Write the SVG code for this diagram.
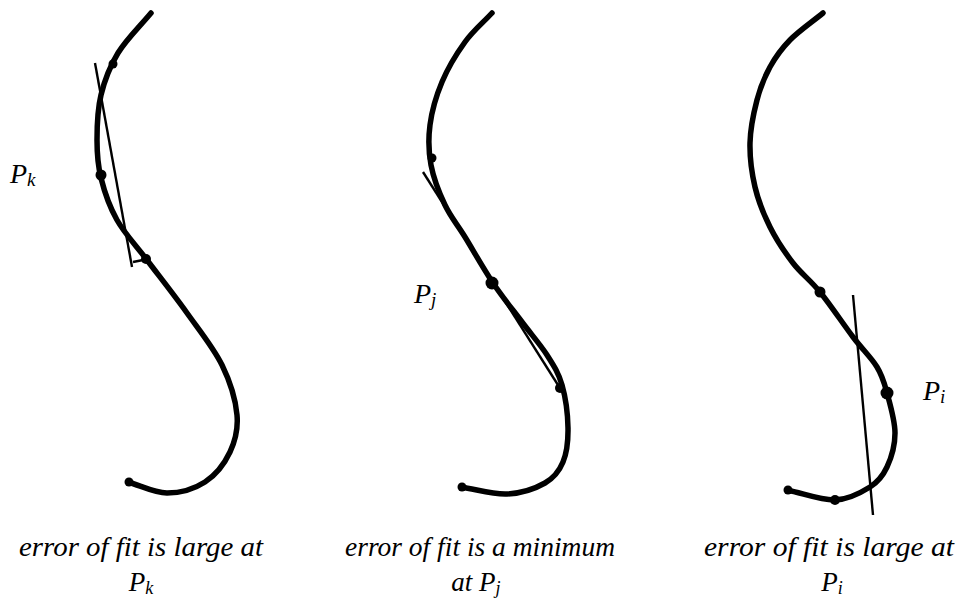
<svg xmlns="http://www.w3.org/2000/svg" width="965" height="615" viewBox="0 0 965 615">
<style>
.curve{fill:none;stroke:#000;stroke-width:5.5;stroke-linecap:round;stroke-linejoin:round}
.tan{fill:none;stroke:#000;stroke-width:2.4;stroke-linecap:butt}
.dot{fill:#000}
.lbl{font-family:"Liberation Serif","Times New Roman",serif;font-style:italic;fill:#000}
.cap{font-family:"Liberation Serif","Times New Roman",serif;font-style:italic;font-size:27px;fill:#000;text-anchor:middle}
</style>
<rect width="965" height="615" fill="#fff"/>
<g id="fig-k">
<path class="curve" d="M151,13 C140,26.3 126.3,39.3 118,53 C109.7,66.7 104.5,80.5 101,95 C97.5,109.5 97,126.2 97,140 C97,153.8 97.7,164.7 101,178 C104.3,191.3 109.3,206.3 117,220 C124.7,233.7 135.3,244.5 147,260 C158.7,275.5 174.5,295.5 187,313 C199.5,330.5 213.7,348 222,365 C230.3,382 235.7,400.5 237,415 C238.3,429.5 235.3,440.8 230,452 C224.7,463.2 215.5,475.2 205,482 C194.5,488.8 179.8,493 167,493 C154.2,493 141,485.7 128,482"/>
<line class="tan" x1="95" y1="63" x2="132" y2="267"/>
<line class="tan" x1="133" y1="262" x2="148" y2="259"/>
<circle class="dot" cx="113" cy="64" r="4.5"/>
<circle class="dot" cx="101" cy="175" r="5.5"/>
<circle class="dot" cx="146" cy="259" r="5"/>
<circle class="dot" cx="129" cy="482" r="4.5"/>
<text class="lbl" x="10" y="183" font-size="28">P<tspan font-size="19" dy="3">k</tspan></text>
</g>
<g id="fig-j">
<path class="curve" d="M492,13 C483,22.7 473.3,30.5 465,42 C456.7,53.5 447.8,68.2 442,82 C436.2,95.8 431.8,111.2 430,125 C428.2,138.8 428.5,151.7 431,165 C433.5,178.3 439.3,193 445,205 C450.7,217 457,224 465,237 C473,250 483.5,268.8 493,283 C502.5,297.2 513,310 522,322 C531,334 540.3,344.5 547,355 C553.7,365.5 558.5,372.8 562,385 C565.5,397.2 567.8,415.2 568,428 C568.2,440.8 566.8,452.8 563,462 C559.2,471.2 554.3,477.7 545,483 C535.7,488.3 521,493.3 507,494 C493,494.7 476.3,489.3 461,487"/>
<line class="tan" x1="423" y1="172" x2="558" y2="385"/>
<circle class="dot" cx="432" cy="158" r="4.5"/>
<circle class="dot" cx="492" cy="283" r="6.5"/>
<circle class="dot" cx="560" cy="388" r="5"/>
<circle class="dot" cx="462" cy="487" r="4.5"/>
<text class="lbl" x="414" y="303" font-size="28">P<tspan font-size="19" dy="3">j</tspan></text>
</g>
<g id="fig-i">
<path class="curve" d="M823,13 C812,22 798.8,31 790,40 C781.2,49 775.5,57 770,67 C764.5,77 760.3,87.3 757,100 C753.7,112.7 750.3,128.5 750,143 C749.7,157.5 751.7,173 755,187 C758.3,201 763.7,214.3 770,227 C776.3,239.7 784.7,252.2 793,263 C801.3,273.8 810,279.7 820,292 C830,304.3 843.5,324.5 853,337 C862.5,349.5 871.3,357.7 877,367 C882.7,376.3 884,382 887,393 C890,404 895,420.7 895,433 C895,445.3 891.2,458 887,467 C882.8,476 878.7,481.5 870,487 C861.3,492.5 848.8,499.5 835,500 C821.2,500.5 803,493.3 787,490"/>
<line class="tan" x1="853" y1="295" x2="873" y2="515"/>
<circle class="dot" cx="820" cy="292" r="5.5"/>
<circle class="dot" cx="887" cy="393" r="6.5"/>
<circle class="dot" cx="835" cy="500" r="5"/>
<circle class="dot" cx="788" cy="490" r="4.5"/>
<text class="lbl" x="923" y="400" font-size="28">P<tspan font-size="19" dy="3">i</tspan></text>
</g>
<g id="captions">
<text class="cap" x="141" y="556" textLength="244" lengthAdjust="spacingAndGlyphs">error of fit is large at</text>
<text class="cap" x="141" y="591">P<tspan font-size="18" dy="3">k</tspan></text>
<text class="cap" x="480" y="556" textLength="270" lengthAdjust="spacingAndGlyphs">error of fit is a minimum</text>
<text class="cap" x="476" y="591">at P<tspan font-size="18" dy="3">j</tspan></text>
<text class="cap" x="829" y="556" textLength="250" lengthAdjust="spacingAndGlyphs">error of fit is large at</text>
<text class="cap" x="832" y="591">P<tspan font-size="18" dy="3">i</tspan></text>
</g>
</svg>
